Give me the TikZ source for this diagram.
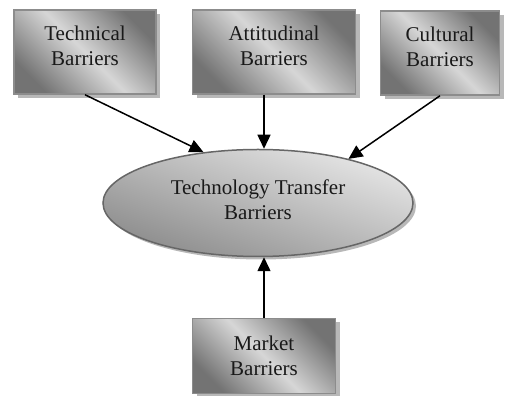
\documentclass[tikz,border=0pt]{standalone}
\usepackage{fontspec}
\setmainfont{Liberation Serif}
\usetikzlibrary{shapes.geometric, arrows.meta, shadows}
\tikzstyle{caption} = [align=center, font=\rmfamily\fontsize{21}{25}\selectfont, text=black!90]
\tikzstyle{barrier} = [rectangle, draw=black!45, line width=1.5pt, top color=black!55, bottom color=black!55, middle color=black!16, shading angle=-45, drop shadow={shadow xshift=4pt, shadow yshift=-4pt, fill=black!28, opacity=1}]
\tikzstyle{core} = [ellipse, draw=black!60, line width=1.5pt, top color=black!10, bottom color=black!45, shading angle=-20, drop shadow={shadow xshift=3pt, shadow yshift=-3pt, fill=black!28, opacity=1}]
\tikzstyle{link} = [line width=1.5pt, -{Triangle[length=14pt, width=13pt]}]

\begin{document}
\begin{tikzpicture}[x=1pt, y=1pt]
    \useasboundingbox (0,0) rectangle (507,396);

    \node[barrier, minimum width=142pt, minimum height=84pt, label={[caption, yshift=6pt]center:Technical\\Barriers}] (technical) at (85,344) {};
    \node[barrier, minimum width=163pt, minimum height=84pt, label={[caption, yshift=6pt]center:Attitudinal\\Barriers}] (attitudinal) at (274,344) {};
    \node[barrier, minimum width=119pt, minimum height=84pt, label={[caption, yshift=6pt]center:Cultural\\Barriers}] (cultural) at (440,343) {};

    \node[core, minimum width=310pt, minimum height=107pt, label={[caption, yshift=3pt]center:Technology Transfer\\Barriers}] (transfer) at (258,193) {};

    \node[barrier, minimum width=143pt, minimum height=75pt, label={[caption]center:Market\\Barriers}] (market) at (264,40) {};

    \draw [link] (technical.south) -- (transfer.137);
    \draw [link] ([xshift=-10pt]attitudinal.south) -- ([xshift=-10pt]attitudinal.south |- transfer.north);
    \draw [link] (cultural.south) -- (transfer.26);
    \draw [link] (market.north) -- (market.north |- transfer.south);

\end{tikzpicture}
\end{document}
